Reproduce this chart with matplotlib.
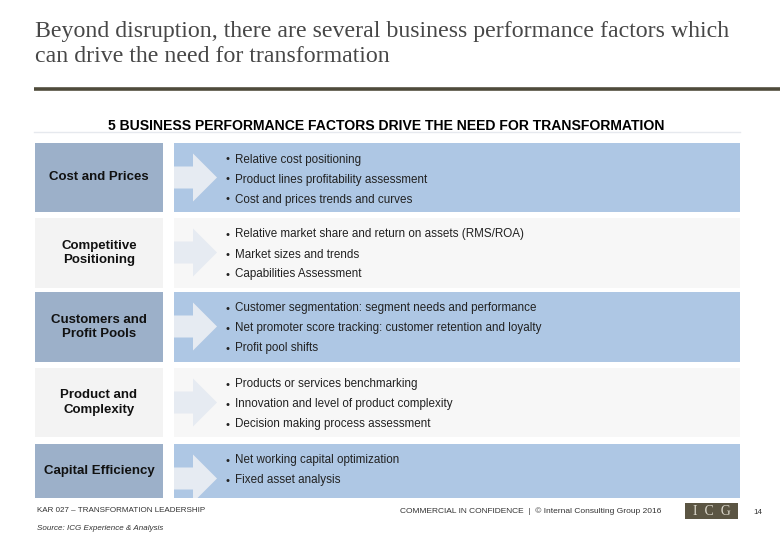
import matplotlib
matplotlib.use('Agg')
import matplotlib.pyplot as plt
from matplotlib.patches import Rectangle, Polygon

# slide content
title_lines = ["Beyond disruption, there are several business performance factors which",
               "can drive the need for transformation"]
subtitle = "5 BUSINESS PERFORMANCE FACTORS DRIVE THE NEED FOR TRANSFORMATION"

factors = ["Cost and Prices", "Competitive\nPositioning", "Customers and\nProfit Pools",
           "Product and\nComplexity", "Capital Efficiency"]

bullets = [
    ["Relative cost positioning",
     "Product lines profitability assessment",
     "Cost and prices trends and curves"],
    ["Relative market share and return on assets (RMS/ROA)",
     "Market sizes and trends",
     "Capabilities Assessment"],
    ["Customer segmentation: segment needs and performance",
     "Net promoter score tracking: customer retention and loyalty",
     "Profit pool shifts"],
    ["Products or services benchmarking",
     "Innovation and level of product complexity",
     "Decision making process assessment"],
    ["Net working capital optimization",
     "Fixed asset analysis"],
]

footer_left = "KAR 027 \u2013 TRANSFORMATION LEADERSHIP"
footer_right = "COMMERCIAL IN CONFIDENCE  |  \u00a9 Internal Consulting Group 2016"
source = "Source: ICG Experience & Analysis"
page = "14"

# layout (pixels)
row_tops = [143, 218, 292, 368, 444]
row_heights = [69, 70, 70, 69, 54]
blue_left, blue_right = '#9cb0c9', '#aec7e4'
grey_left, grey_right = '#f3f3f3', '#f7f7f7'

fig = plt.figure(figsize=(7.8, 5.4), dpi=100)
ax = fig.add_axes([0, 0, 1, 1])
ax.set_xlim(0, 780)
ax.set_ylim(540, 0)
ax.axis('off')

# title
for i, line in enumerate(title_lines):
    ax.text(35, 32 + i * 25, line, fontsize=17.2, family='Liberation Serif',
            color='#474747', va='center', ha='left')
ax.plot([34, 780], [89, 89], color='#4f4b3b', linewidth=2.6, solid_capstyle='butt')

ax.text(386, 126, subtitle, fontsize=10.1, fontweight='bold', family='Liberation Sans',
        color='black', ha='center', va='center')
ax.plot([34, 740], [131.5, 131.5], color='#e6e9ee', linewidth=1)

for i, (name, items) in enumerate(zip(factors, bullets)):
    top = row_tops[i]
    h = row_heights[i]
    blue = (i % 2 == 0)
    lc = blue_left if blue else grey_left
    rc = blue_right if blue else grey_right
    ax.add_patch(Rectangle((35, top), 128, h, facecolor=lc, edgecolor='none'))
    panel = Rectangle((174, top), 566, h, facecolor=rc, edgecolor='none')
    ax.add_patch(panel)

    cy = top + 34.5
    arrow = Polygon([(174, cy - 11), (193, cy - 11), (193, cy - 24), (217, cy),
                     (193, cy + 24), (193, cy + 11), (174, cy + 11)],
                    closed=True, facecolor='#e6ebf2', edgecolor='none')
    ax.add_patch(arrow)
    arrow.set_clip_path(panel)

    ax.text(99, top + h / 2, name, fontsize=9.5, fontweight='bold', family='Liberation Sans',
            ha='center', va='center', color='#111111', linespacing=1.3)

    for j, item in enumerate(items):
        y = top + 16.5 + j * 20
        ax.text(228, y, "\u2022", fontsize=7.5, family='DejaVu Sans', ha='center', va='center',
                color='#222222')
        ax.text(235, y, item, fontsize=8.4, family='Liberation Sans', ha='left', va='center',
                color='#222222')

# footer
ax.text(37, 511, footer_left, fontsize=5.8, family='Liberation Sans', color='#333333',
        ha='left', va='center')
ax.text(661, 511, footer_right, fontsize=6.0, family='Liberation Sans', color='#333333',
        ha='right', va='center')
ax.add_patch(Rectangle((685, 503), 53, 16, facecolor='#5b5543', edgecolor='none'))
ax.text(711.5, 511.5, "I  C  G", fontsize=10, family='Liberation Serif', color='#dcd8cc',
        ha='center', va='center')
ax.text(758, 512, page, fontsize=5.8, family='Liberation Sans', color='#333333',
        ha='center', va='center')
ax.text(37, 528, source, fontsize=5.8, family='Liberation Sans', style='italic',
        color='#333333', ha='left', va='center')

fig.savefig("out.png", dpi=100)
